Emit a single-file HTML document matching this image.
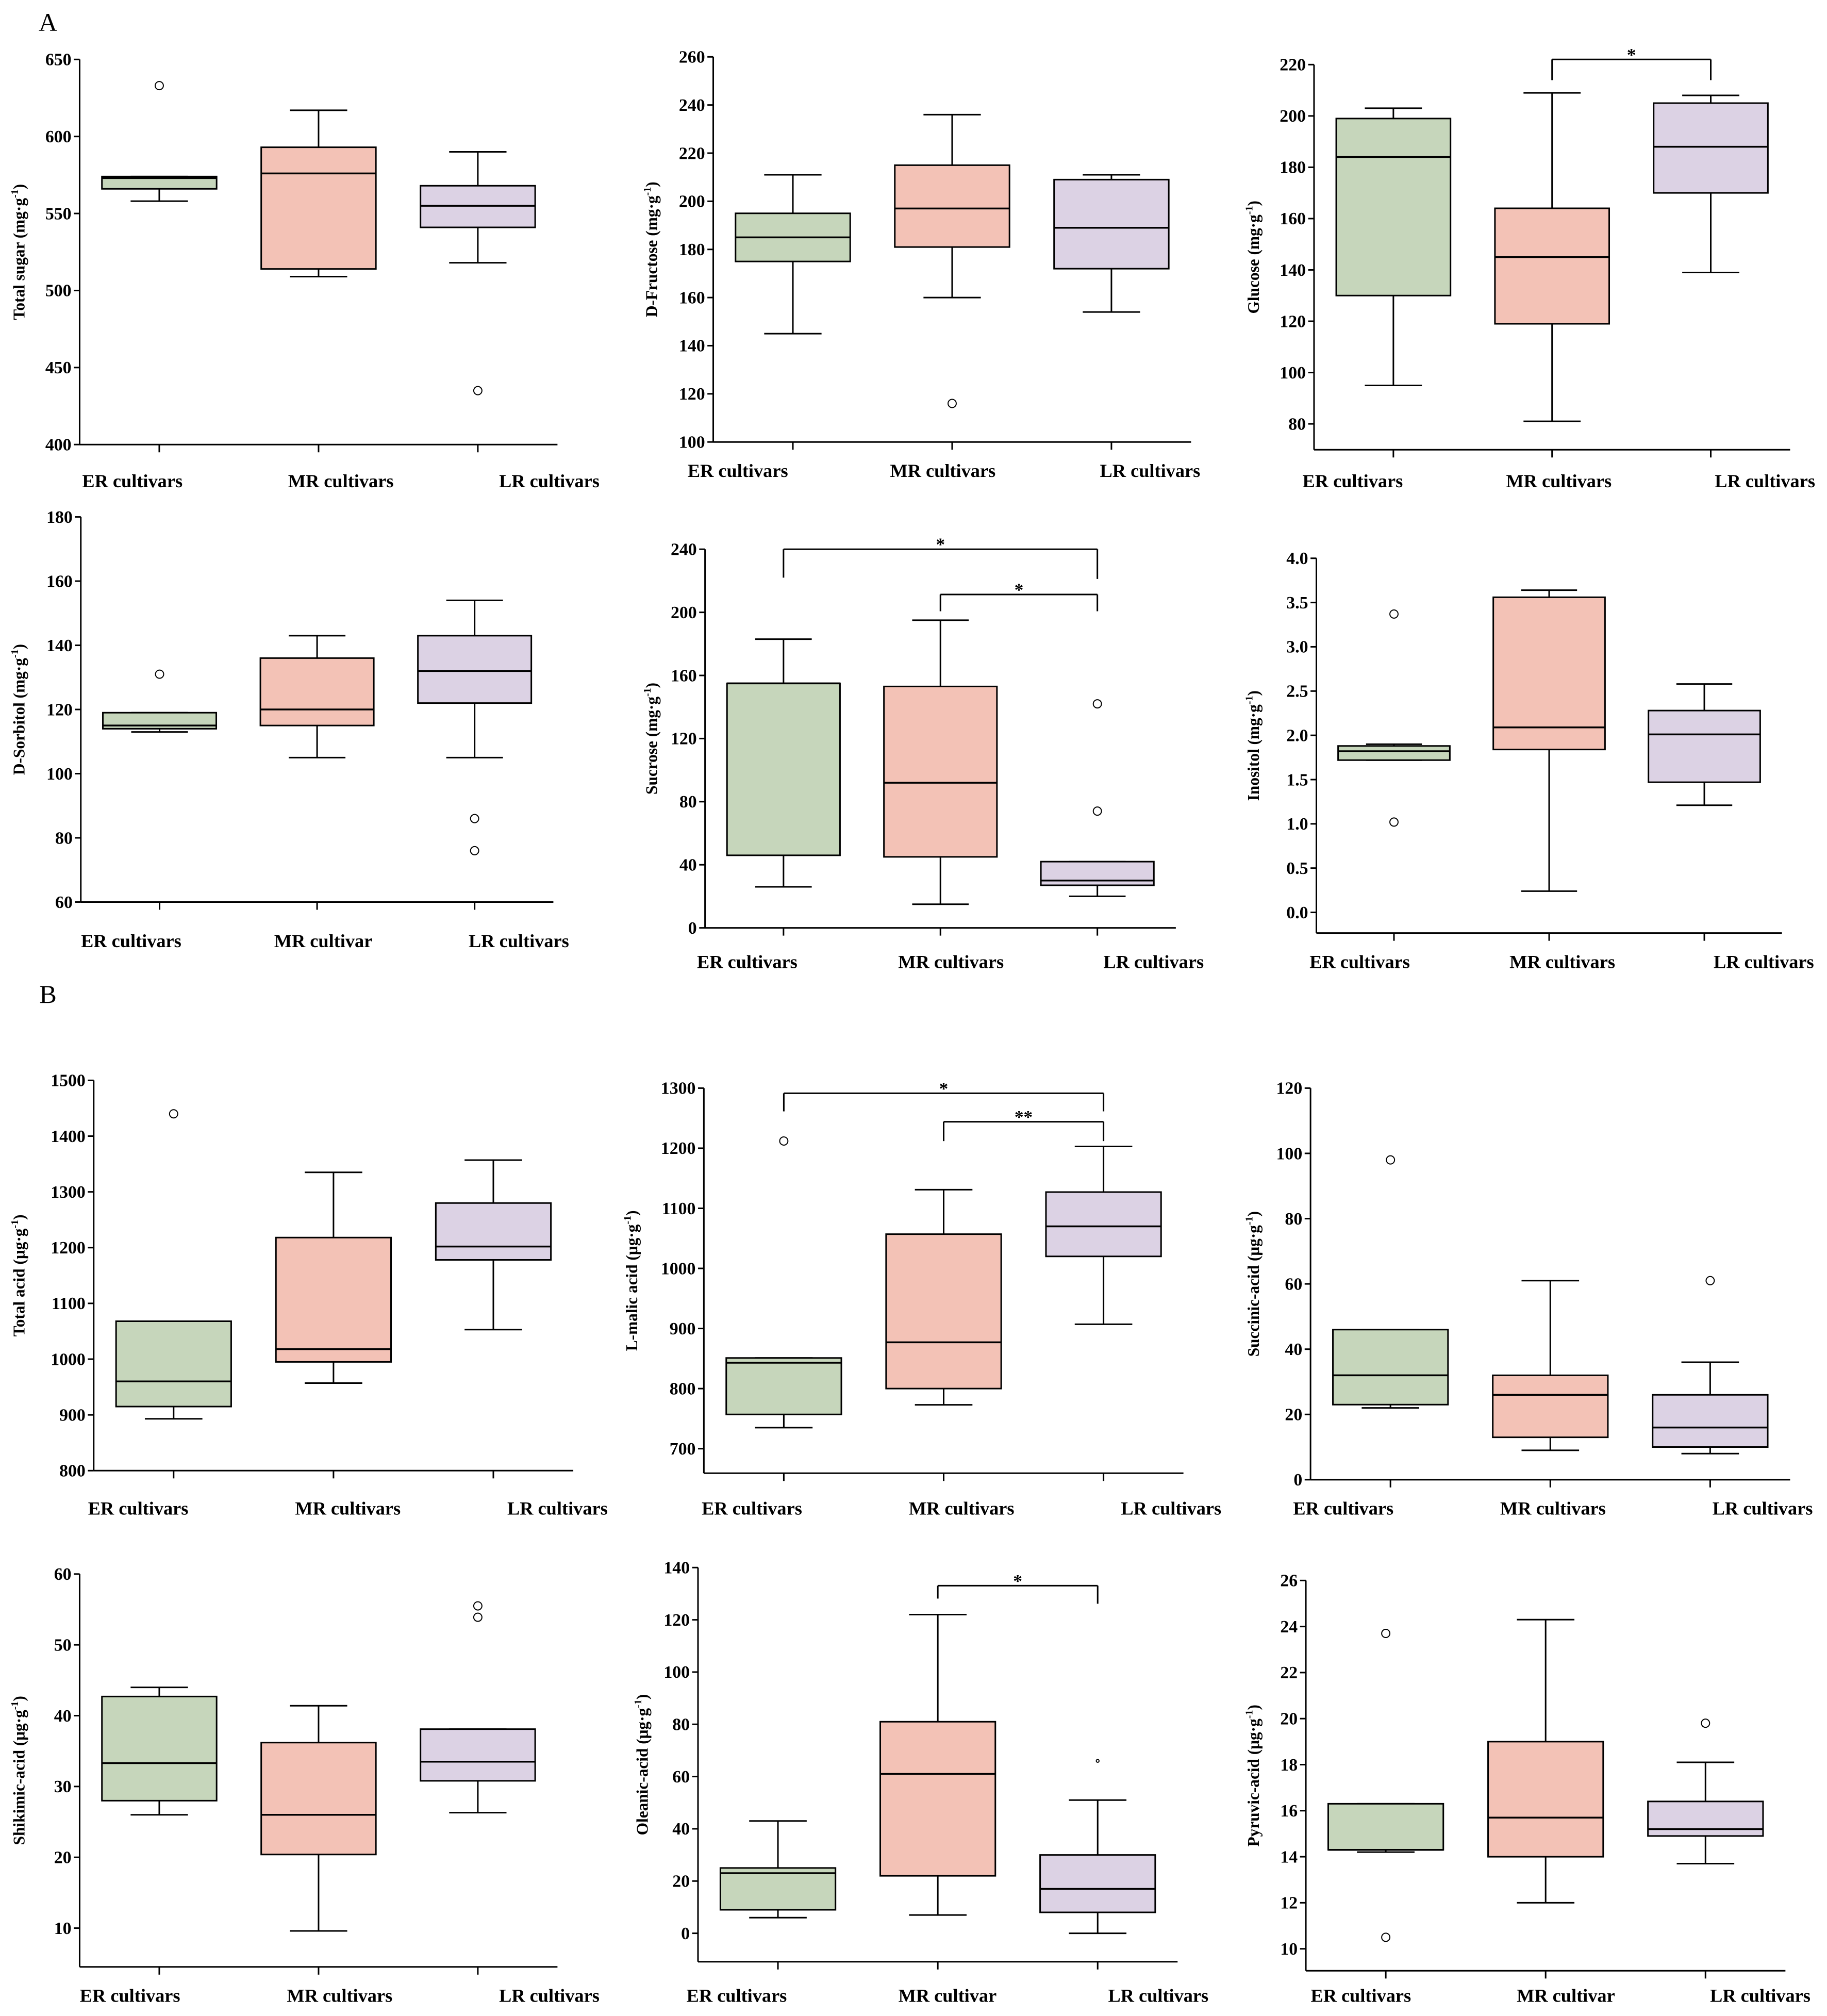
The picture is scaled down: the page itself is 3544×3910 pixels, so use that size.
<!DOCTYPE html>
<html><head><meta charset="utf-8"><style>
html,body{margin:0;padding:0;background:#fff;}
svg{display:block;}
text{font-family:"Liberation Serif",serif;font-weight:bold;fill:#000;}
</style></head><body>
<svg id="fig" width="3544" height="3910" viewBox="0 0 1560 1560" preserveAspectRatio="none" xmlns="http://www.w3.org/2000/svg"></svg>
<script>
const categories = ["ER cultivars","MR cultivars","LR cultivars"];
const fills = ["#c6d6bb","#f3c2b6","#dcd2e4"];
// each box: [low whisker, q1, median, q3, high whisker]
const sugarBox = [[558,566,573,574,574],[509,514,576,593,617],[518,541,555,568,590]];
const sugarOut = [[633],[],[435]];
const sugarTicks = [400,450,500,550,600,650];
const fructoseBox = [[145,175,185,195,211],[160,181,197,215,236],[154,172,189,209,211]];
const fructoseOut = [[],[116],[]];
const fructoseTicks = [100,120,140,160,180,200,220,240,260];
const glucoseBox = [[95,130,184,199,203],[81,119,145,164,209],[139,170,188,205,208]];
const glucoseOut = [[],[],[]];
const glucoseTicks = [80,100,120,140,160,180,200,220];
const sorbitolBox = [[113,114,115,119,119],[105,115,120,136,143],[105,122,132,143,154]];
const sorbitolOut = [[131],[],[86,76]];
const sorbitolTicks = [60,80,100,120,140,160,180];
const sucroseBox = [[26,46,155,155,183],[15,45,92,153,195],[20,27,30,42,42]];
const sucroseOut = [[],[],[142,74]];
const sucroseTicks = [0,40,80,120,160,200,240];
const inositolBox = [[1.72,1.72,1.82,1.88,1.9],[0.24,1.84,2.09,3.56,3.64],[1.21,1.47,2.01,2.28,2.58]];
const inositolOut = [[3.37,1.02],[],[]];
const inositolTicks = [0,0.5,1,1.5,2,2.5,3,3.5,4];
const acidBox = [[893,915,960,1068,1068],[957,995,1018,1218,1335],[1053,1178,1202,1280,1357]];
const acidOut = [[1440],[],[]];
const acidTicks = [800,900,1000,1100,1200,1300,1400,1500];
const malicBox = [[735,757,843,851,851],[773,800,877,1057,1131],[907,1020,1070,1127,1203]];
const malicOut = [[1212],[],[]];
const malicTicks = [700,800,900,1000,1100,1200,1300];
const succinicBox = [[22,23,32,46,46],[9,13,26,32,61],[8,10,16,26,36]];
const succinicOut = [[98],[],[61]];
const succinicTicks = [0,20,40,60,80,100,120];
const shikimicBox = [[26,28,33.3,42.7,44],[9.6,20.4,26,36.2,41.4],[26.3,30.8,33.5,38.1,38.1]];
const shikimicOut = [[],[],[55.5,53.9]];
const shikimicTicks = [10,20,30,40,50,60];
const oleanicBox = [[6,9,23,25,43],[7,22,61,81,122],[0,8,17,30,51]];
const oleanicOut = [[],[],[66]];
const oleanicTicks = [0,20,40,60,80,100,120,140];
const pyruvicBox = [[14.2,14.3,14.3,16.3,16.3],[12,14,15.7,19,24.3],[13.7,14.9,15.2,16.4,18.1]];
const pyruvicOut = [[23.7,10.5],[],[19.8]];
const pyruvicTicks = [10,12,14,16,18,20,22,24,26];

const SX = 2.506/2.272; // text width compensation
const svg = document.getElementById('fig');
const NS = "http://www.w3.org/2000/svg";
function mk(tag, attrs, parent){
  const e = document.createElementNS(NS, tag);
  for (const k in attrs) e.setAttribute(k, attrs[k]);
  (parent||svg).appendChild(e);
  return e;
}
function line(g,x1,y1,x2,y2,w){
  const l = mk('line',{x1:x1,y1:y1,x2:x2,y2:y2,stroke:'#000','stroke-width':w||3,'vector-effect':'non-scaling-stroke'},g);
  return l;
}
function txt(g,x,y,s,size,anchor,rot){
  const t = mk('text',{'font-size':size,'text-anchor':anchor||'middle'},g);
  let tr = 'translate('+x+','+y+')';
  if (rot) tr += ' rotate(-90) scale(1,'+SX+')'; else tr += ' scale('+SX+',1)';
  t.setAttribute('transform',tr);
  t.textContent = s;
  return t;
}
function fmt(v, ticks){
  return ticks.some(t=>t%1!==0) ? v.toFixed(1) : String(v);
}

const panels = [
 {name:'total-sugar', title:'Total sugar (mg·g', box:sugarBox, out:sugarOut, ticks:sugarTicks, x0:68, sp:136, yMax:46, yMin:344, axisB:344, labY:377, labs:[113,291,469], tx:17, cats:categories},
 {name:'d-fructose', title:'D-Fructose (mg·g', box:fructoseBox, out:fructoseOut, ticks:fructoseTicks, x0:609, sp:136, yMax:44, yMin:342, axisB:342, labY:369, labs:[630,805,982], tx:557, cats:categories},
 {name:'glucose', title:'Glucose (mg·g', box:glucoseBox, out:glucoseOut, ticks:glucoseTicks, x0:1122, sp:135.5, yMax:50, yMin:328, axisB:348, labY:377, labs:[1155,1331,1507], tx:1071, cats:categories,
   brackets:[{a:1,b:2,y:46,da:62,db:62,star:'*',sy:41}]},
 {name:'d-sorbitol', title:'D-Sorbitol (mg·g', box:sorbitolBox, out:sorbitolOut, ticks:sorbitolTicks, x0:69, sp:134.5, yMax:400, yMin:698, axisB:698, labY:733, labs:[112,276,443], tx:17, cats:["ER cultivars","MR cultivar","LR cultivars"]},
 {name:'sucrose', title:'Sucrose (mg·g', box:sucroseBox, out:sucroseOut, ticks:sucroseTicks, x0:602, sp:134, yMax:425, yMin:718, axisB:718, labY:749, labs:[638,812,985], tx:557, cats:categories,
   brackets:[{a:0,b:2,y:425,da:447,db:448,star:'*',sy:420},{a:1,b:2,y:460,da:473,db:473,star:'*',sy:455}]},
 {name:'inositol', title:'Inositol (mg·g', box:inositolBox, out:inositolOut, ticks:inositolTicks, x0:1124, sp:132.5, yMax:432, yMin:706, axisB:722, labY:749, labs:[1161,1334,1506], tx:1071, cats:categories},
 {name:'total-acid', title:'Total acid (μg·g', box:acidBox, out:acidOut, ticks:acidTicks, x0:80, sp:136.5, yMax:836, yMin:1138, axisB:1138, labY:1172, labs:[118,297,476], tx:17, cats:categories},
 {name:'l-malic-acid', title:'L-malic acid (μg·g', box:malicBox, out:malicOut, ticks:malicTicks, x0:601, sp:136.5, yMax:842, yMin:1121, axisB:1140, labY:1172, labs:[642,821,1000], tx:540, cats:categories,
   brackets:[{a:0,b:2,y:846,da:860,db:860,star:'*',sy:841},{a:1,b:2,y:868,da:883,db:883,star:'**',sy:863}]},
 {name:'succinic-acid', title:'Succinic-acid (μg·g', box:succinicBox, out:succinicOut, ticks:succinicTicks, x0:1119, sp:136.5, yMax:842, yMin:1145, axisB:1145, labY:1172, labs:[1147,1326,1505], tx:1071, cats:categories},
 {name:'shikimic-acid', title:'Shikimic-acid (μg·g', box:shikimicBox, out:shikimicOut, ticks:shikimicTicks, x0:68, sp:136, yMax:1218, yMin:1492, axisB:1522, labY:1549, labs:[111,290,469], tx:17, cats:categories},
 {name:'oleanic-acid', title:'Oleanic-acid (μg·g', box:oleanicBox, out:oleanicOut, ticks:oleanicTicks, x0:596, sp:136.5, yMax:1213, yMin:1496, axisB:1518, labY:1549, labs:[629,809,989], tx:549, cats:["ER cultivars","MR cultivar","LR cultivars"], smallOut:true,
   brackets:[{a:1,b:2,y:1227,da:1237,db:1241,star:'*',sy:1222}]},
 {name:'pyruvic-acid', title:'Pyruvic-acid (μg·g', box:pyruvicBox, out:pyruvicOut, ticks:pyruvicTicks, x0:1115, sp:136.5, yMax:1223, yMin:1508, axisB:1525, labY:1549, labs:[1162,1337,1503], tx:1071, cats:["ER cultivars","MR cultivar","LR cultivars"]}
];

const la = txt(svg,41,24,'A',20,'middle');
la.setAttribute('style','font-weight:normal');


const lbB = txt(svg,41,776,'B',20,'middle');
lbB.setAttribute('style','font-weight:normal');



panels.forEach(p=>{
  const g = mk('g',{});
  
  
  const tmin = p.ticks[0], tmax = p.ticks[p.ticks.length-1];
  const Y = v => p.yMax + (tmax - v)/(tmax - tmin)*(p.yMin - p.yMax);
  const X = i => p.x0 + p.sp*(i+0.5);
  const x1 = p.x0 + 3*p.sp;
  const hw = p.sp*0.36;
  const ya = line(g,p.x0,p.yMax,p.x0,p.axisB,3);
  
  
  const xa = line(g,p.x0,p.axisB,x1,p.axisB,3);
  
  
  p.ticks.forEach(t=>{
    line(g,p.x0-5,Y(t),p.x0,Y(t),3);
    const tl = txt(g,p.x0-7,Y(t)+4.5,fmt(t,p.ticks),13.5,'end');
    
    
  });
  const tt = txt(g,p.tx+4,(p.yMax+p.axisB)/2,'',12.5,'middle',true);
  tt.textContent = p.title;
  const sup = mk('tspan',{'font-size':8,dy:-5},tt); sup.textContent='-1';
  const cl = mk('tspan',{dy:5},tt); cl.textContent=')';
  
  
  p.box.forEach((b,i)=>{
    const cx = X(i);
    const bg = mk('g',{},g);
    
    
    line(bg,cx,p.axisB,cx,p.axisB+6,3);
    line(bg,cx,Y(b[0]),cx,Y(b[4]),3);
    line(bg,cx-hw*0.5,Y(b[0]),cx+hw*0.5,Y(b[0]),3);
    line(bg,cx-hw*0.5,Y(b[4]),cx+hw*0.5,Y(b[4]),3);
    mk('rect',{x:cx-hw,y:Y(b[3]),width:2*hw,height:Math.max(0.5,Y(b[1])-Y(b[3])),fill:fills[i],stroke:'#000','stroke-width':3,'vector-effect':'non-scaling-stroke'},bg);
    line(bg,cx-hw,Y(b[2]),cx+hw,Y(b[2]),3.5);
    p.out[i].forEach(v=>{
      const r = p.smallOut ? 1.2 : 3.5;
      const o = mk('ellipse',{cx:cx,cy:Y(v),rx:r,ry:r*0.91,fill:'#fff',stroke:'#000','stroke-width':2,'vector-effect':'non-scaling-stroke'},bg);
      
      
    });
    const lb = txt(g,p.labs[i],p.labY,p.cats[i],14.5,'middle');
    
    
  });
  (p.brackets||[]).forEach(br=>{
    const bg = mk('g',{},g);
    
    
    const xa2 = X(br.a), xb = X(br.b);
    line(bg,xa2,br.y,xb,br.y,3);
    line(bg,xa2,br.y,xa2,br.da,3);
    line(bg,xb,br.y,xb,br.db,3);
    txt(bg,(xa2+xb)/2,br.sy+6,br.star,14,'middle');
  });
});
</script>
</body></html>
